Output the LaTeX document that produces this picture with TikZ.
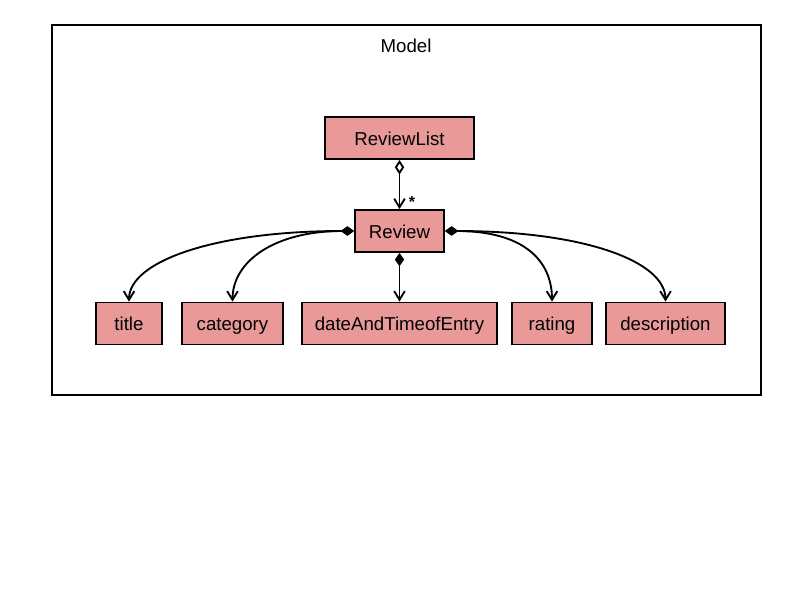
\documentclass[tikz,border=0pt]{standalone}
\usepackage{fontspec}
\setmainfont{Liberation Sans}
\usetikzlibrary{arrows.meta}
\definecolor{boxfill}{HTML}{EA9999}
\tikzset{
  cls/.style={draw=black, line width=1.4pt, fill=boxfill, minimum height=31.5pt, inner sep=0pt, text height=11.5pt, text depth=1pt, font=\fontsize{14}{16}\selectfont},
  conn/.style={line width=1.4pt, draw=black},
  comp/.style={conn, {Diamond[length=10pt,width=7pt,fill=black]}-{Straight Barb[length=6.5pt,width=8pt]}},
  aggr/.style={conn, {Diamond[open,length=11pt,width=7pt,fill=white]}-{Straight Barb[length=6.5pt,width=8pt]}}
}
\begin{document}
\begin{tikzpicture}[x=0.75pt,y=-0.75pt]
\useasboundingbox (0,0) rectangle (800,600);
\node[draw=black, line width=1.4pt, minimum width=531.75pt, minimum height=277.5pt, inner sep=0pt] (frame) at (406.5,210) {};
\node[font=\fontsize{14}{16}\selectfont] (model) at (406,46) {Model};
\node[cls, minimum width=111.75pt] (rl) at (399.5,138) {ReviewList};
\node[cls, minimum width=66.75pt] (rev) at (399.5,231) {Review};
\node[cls, minimum width=49.5pt] (title) at (129,323.5) {title};
\node[cls, minimum width=75.75pt] (cat) at (232.5,323.5) {category};
\node[cls, minimum width=146.25pt] (date) at (399.5,323.5) {dateAndTimeofEntry};
\node[cls, minimum width=60pt] (rating) at (552,323.5) {rating};
\node[cls, minimum width=89.25pt] (desc) at (665.5,323.5) {description};
\draw[aggr] (rl.south) -- (rev.north) node[pos=0.86, right=3pt, font=\fontsize{12}{14}\selectfont\bfseries] (star) {*};
\draw[comp] (rev.south) -- (date.north);
\draw[comp] (rev.west) .. controls +(-140,0) and +(0,-40) .. (title.north);
\draw[comp] (rev.west) .. controls +(-80,0) and +(0,-40) .. (cat.north);
\draw[comp] (rev.east) .. controls +(80,0) and +(0,-40) .. (rating.north);
\draw[comp] (rev.east) .. controls +(140,0) and +(0,-40) .. (desc.north);
\end{tikzpicture}
\end{document}
